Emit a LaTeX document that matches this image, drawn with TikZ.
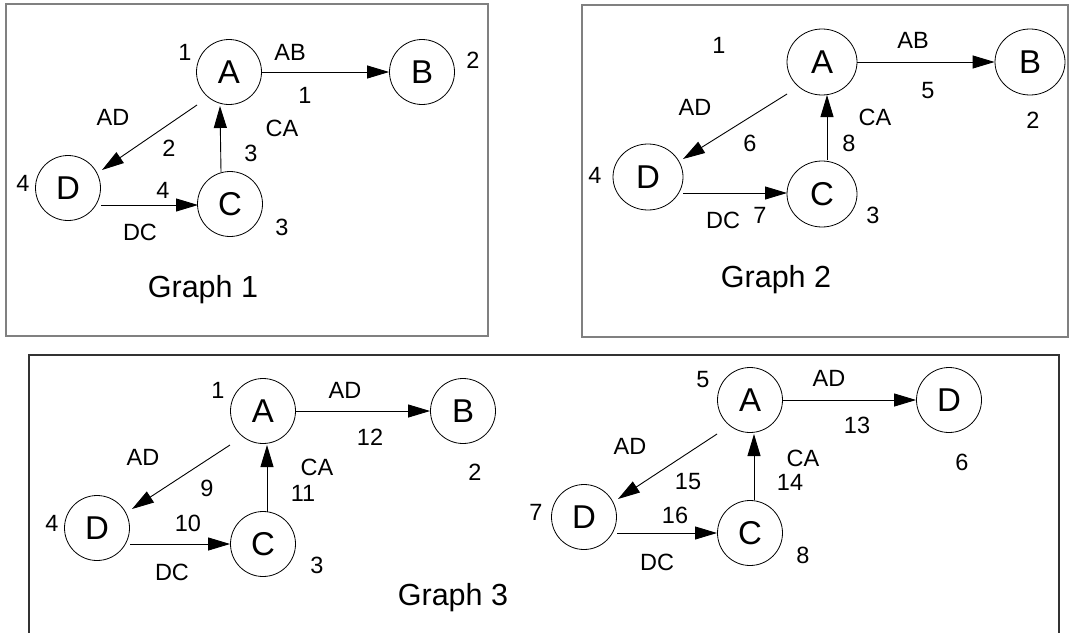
\documentclass[tikz,border=0pt]{standalone}
\usepackage{fontspec}
\setmainfont{Liberation Sans}
\usetikzlibrary{arrows.meta,calc,shapes.geometric}
\begin{document}
\begin{tikzpicture}[x=1pt,y=-1pt,
 vtx/.style={circle,draw,line width=0.8pt,minimum size=65pt,inner sep=0pt,font=\fontsize{33}{33}\selectfont},
 vtxe/.style={ellipse,draw,line width=0.8pt,minimum width=70pt,minimum height=66pt,inner sep=0pt,font=\fontsize{33}{33}\selectfont},
 lbl/.style={inner sep=0pt,font=\fontsize{23.5}{23.5}\selectfont},
 ttl/.style={inner sep=0pt,anchor=base,font=\fontsize{30.5}{30.5}\selectfont},
 arr/.style={line width=0.9pt,-{Triangle[length=22pt,width=13pt]}},
 frm/.style={line width=1.6pt,draw=black!50},
 frmb/.style={line width=1.6pt,draw=black!80}]
\useasboundingbox (0,0) rectangle (1070,632);
\fill[white] (0,0) rectangle (1070,632);

% ---------- Graph 1 ----------
\draw[frm] (6,4) rectangle (488,336);
\node[vtx] (A1) at (229,72) {A};
\node[vtx] (B1) at (422,72) {B};
\node[vtx] (D1) at (68,188) {D};
\node[vtx] (C1) at (230,204) {C};
\draw[arr] (A1.east) -- (B1.west);
\draw[arr] ($(A1)+(-32,33)$) -- ($(D1)+(34,-18)$);
\draw[arr] ($(C1)+(-9,-32)$) -- ($(A1)+(-9,34)$);
\draw[arr] ($(D1)+(33,17)$) -- ($(C1)+(-32,1)$);
\node[lbl] at (185,52) {1};
\node[lbl] at (290,52) {AB};
\node[lbl] at (305,95) {1};
\node[lbl] at (473,60) {2};
\node[lbl] at (113,117) {AD};
\node[lbl] at (169,148) {2};
\node[lbl] at (282,128) {CA};
\node[lbl] at (251,153) {3};
\node[lbl] at (23,183) {4};
\node[lbl] at (163,190) {4};
\node[lbl] at (282,227) {3};
\node[lbl] at (140,232) {DC};
\node[ttl] at (203,297) {Graph 1};

% ---------- Graph 2 ----------
\draw[frm] (582,5) rectangle (1068,337);
\node[vtxe] (A2) at (822,62) {A};
\node[vtxe] (B2) at (1030,62) {B};
\node[vtxe] (D2) at (648,177) {D};
\node[vtxe] (C2) at (822,194) {C};
\draw[arr] (A2.east) -- (B2.west);
\draw[arr] ($(A2)+(-35,32)$) -- ($(D2)+(35,-18)$);
\draw[arr] ($(C2)+(5,-34)$) -- ($(A2)+(5,33)$);
\draw[arr] ($(D2)+(35,16)$) -- ($(C2)+(-35,-1)$);
\node[lbl] at (719,45) {1};
\node[lbl] at (913,40) {AB};
\node[lbl] at (928,91) {5};
\node[lbl] at (1033,120) {2};
\node[lbl] at (695,107) {AD};
\node[lbl] at (750,143) {6};
\node[lbl] at (875,117) {CA};
\node[lbl] at (849,143) {8};
\node[lbl] at (595,175) {4};
\node[lbl] at (723,220) {DC};
\node[lbl] at (760,215) {7};
\node[lbl] at (873,215) {3};
\node[ttl] at (776,287) {Graph 2};

% ---------- Graph 3 ----------
\draw[frmb] (29,634) -- (29,355) -- (1059,355) -- (1059,634);
\node[vtx] (A3) at (263,411) {A};
\node[vtx] (B3) at (463,411) {B};
\node[vtx] (D3) at (97,528) {D};
\node[vtx] (C3) at (263,544) {C};
\draw[arr] (A3.east) -- (B3.west);
\draw[arr] ($(A3)+(-33,34)$) -- ($(D3)+(35,-19)$);
\draw[arr] ($(C3)+(4,-32)$) -- ($(A3)+(4,34)$);
\draw[arr] ($(D3)+(33,16)$) -- (C3.west);
\node[lbl] at (218,390) {1};
\node[lbl] at (345,390) {AD};
\node[lbl] at (370,437) {12};
\node[lbl] at (143,457) {AD};
\node[lbl] at (317,467) {CA};
\node[lbl] at (475,472) {2};
\node[lbl] at (207,488) {9};
\node[lbl] at (303,493) {11};
\node[lbl] at (52,523) {4};
\node[lbl] at (188,523) {10};
\node[lbl] at (317,565) {3};
\node[lbl] at (172,572) {DC};
\node[ttl] at (453,605) {Graph 3};

\node[vtx] (A4) at (750,400) {A};
\node[vtx] (D4) at (949,400) {D};
\node[vtx] (D5) at (584,517) {D};
\node[vtx] (C4) at (750,533) {C};
\draw[arr] (A4.east) -- (D4.west);
\draw[arr] ($(A4)+(-33,34)$) -- ($(D5)+(34,-18)$);
\draw[arr] ($(C4)+(4,-33)$) -- ($(A4)+(4,34)$);
\draw[arr] ($(D5)+(33,16)$) -- ($(C4)+(-33,0)$);
\node[lbl] at (703,380) {5};
\node[lbl] at (829,378) {AD};
\node[lbl] at (857,425) {13};
\node[lbl] at (630,446) {AD};
\node[lbl] at (803,458) {CA};
\node[lbl] at (962,462) {6};
\node[lbl] at (688,482) {15};
\node[lbl] at (790,482) {14};
\node[lbl] at (536,512) {7};
\node[lbl] at (675,515) {16};
\node[lbl] at (657,562) {DC};
\node[lbl] at (803,555) {8};
\end{tikzpicture}
\end{document}
